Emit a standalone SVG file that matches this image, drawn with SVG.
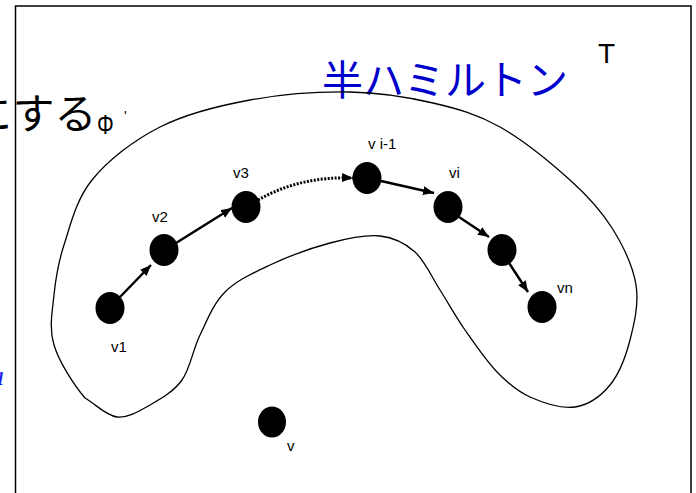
<svg xmlns="http://www.w3.org/2000/svg" width="696" height="493" viewBox="0 0 696 493">
<style>
.lbl{font-family:"Liberation Sans",Arial,sans-serif;font-size:15px;fill:#000}
.node{fill:#000}
.arr{stroke:#000;stroke-width:2.5;fill:none;marker-end:url(#ah)}
.dot{stroke:#000;stroke-width:3;fill:none;stroke-dasharray:2 1.5;marker-end:url(#ah)}
</style>
<defs>
<marker id="ah" markerUnits="userSpaceOnUse" markerWidth="12" markerHeight="10" refX="11" refY="4.5" orient="auto">
<path d="M0,0 L11,4.5 L0,9 Z" fill="#000"/>
</marker>
</defs>
<rect width="696" height="493" fill="#fff"/>
<g id="frame" fill="none">
<path d="M15.5,493 V6 H691 V493" stroke="#000" stroke-width="1.5"/>
</g>
<g id="texts">
<text x="-30" y="129" font-family="'Noto Sans CJK JP',sans-serif" font-size="42" fill="#000">にする</text>
<text transform="translate(97,134) scale(1,1.35)" font-family="'Liberation Sans',sans-serif" font-size="21" fill="#000">Φ</text>
<text x="124" y="121" font-family="'Liberation Sans',sans-serif" font-size="14" fill="#000">'</text>
<text x="322" y="95" font-family="'Noto Sans CJK JP',sans-serif" font-size="41" fill="#0000cc">半ハミルトン</text>
<text x="598" y="63" font-family="'Liberation Sans',sans-serif" font-size="28" fill="#000">T</text>
<text x="-10" y="385" font-family="'Liberation Serif',serif" font-style="italic" font-size="28" fill="#1a1aff">a</text>
</g>
<g id="blob">
<path fill="none" stroke="#000" stroke-width="1.3" d="M54,345 C48.8,327.8 52.3,311.7 54,295 C55.7,278.3 57.7,264.2 64,245 C70.3,225.8 76,199.7 92,180 C108,160.3 133.7,140.3 160,127 C186.3,113.7 218.3,105.8 250,100 C281.7,94.2 319.5,91.5 350,92 C380.5,92.5 408,97.2 433,103 C458,108.8 477.2,114.2 500,127 C522.8,139.8 551.3,163.2 570,180 C588.7,196.8 601,210.5 612,228 C623,245.5 633,266.3 636,285 C639,303.7 634.3,323.3 630,340 C625.7,356.7 619.2,373.8 610,385 C600.8,396.2 588.3,405 575,407 C561.7,409 543,402.8 530,397 C517,391.2 507.8,383.2 497,372 C486.2,360.8 474.5,343.7 465,330 C455.5,316.3 448.3,303 440,290 C431.7,277 425,261 415,252 C405,243 394.2,237.5 380,236 C365.8,234.5 348.3,238.2 330,243 C311.7,247.8 287.5,256.8 270,265 C252.5,273.2 236.7,280.3 225,292 C213.3,303.7 207.2,320.3 200,335 C192.8,349.7 190.3,368.3 182,380 C173.7,391.7 160.8,398.8 150,405 C139.2,411.2 127.8,418.2 117,417 C106.2,415.8 95.5,404 85,398 C74.5,386 59.2,362.2 54,345 Z"/>
</g>
<g id="connectors">
<line class="arr" x1="120" y1="297" x2="151" y2="265"/>
<line class="arr" x1="176" y1="243" x2="232" y2="208"/>
<path class="dot" d="M258,200 Q300,176 353,178"/>
<line class="arr" x1="381" y1="181" x2="434" y2="193"/>
<line class="arr" x1="459" y1="217" x2="489" y2="237"/>
<line class="arr" x1="509" y1="263" x2="528" y2="292"/>
</g>
<g id="n-v1"><ellipse class="node" cx="110" cy="308" rx="14.5" ry="16"/><text class="lbl" x="111" y="352">v1</text></g>
<g id="n-v2"><ellipse class="node" cx="164" cy="250" rx="14.5" ry="16"/><text class="lbl" x="152" y="222">v2</text></g>
<g id="n-v3"><ellipse class="node" cx="246" cy="207" rx="14.5" ry="16"/><text class="lbl" x="233" y="178">v3</text></g>
<g id="n-vi-1"><ellipse class="node" cx="367" cy="178" rx="14.5" ry="16"/><text class="lbl" x="368" y="149">v i-1</text></g>
<g id="n-vi"><ellipse class="node" cx="448" cy="207" rx="14.5" ry="16"/><text class="lbl" x="449" y="178">vi</text></g>
<g id="n-vi+1"><ellipse class="node" cx="502" cy="250" rx="14.5" ry="16"/></g>
<g id="n-vn"><ellipse class="node" cx="542" cy="307" rx="14.5" ry="16"/><text class="lbl" x="557" y="293">vn</text></g>
<g id="n-v"><ellipse class="node" cx="272" cy="422" rx="14" ry="15.5"/><text class="lbl" x="287" y="451">v</text></g>
</svg>
